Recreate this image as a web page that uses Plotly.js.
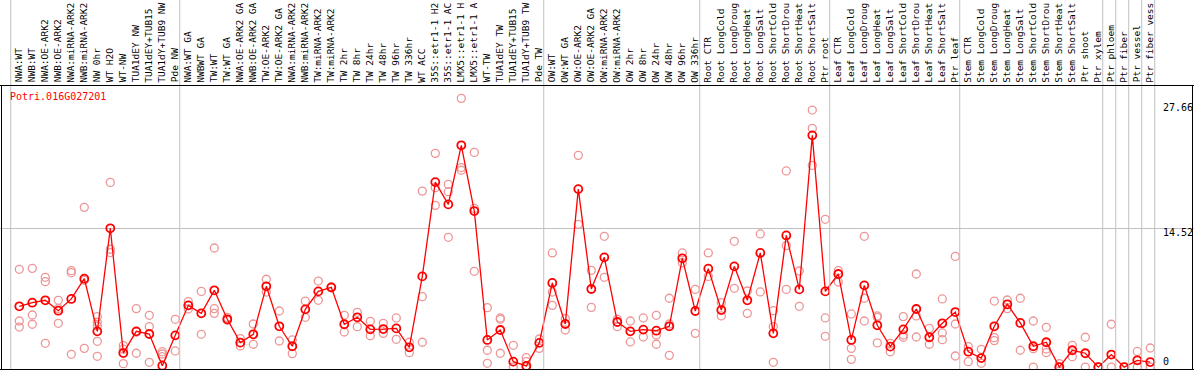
<!DOCTYPE html>
<html>
<head>
<meta charset="utf-8">
<script src="https://cdn.plot.ly/plotly-3.0.1.min.js"></script>
<style>html,body{margin:0;padding:0;background:#fff;}#chart{width:1194px;height:370px;}</style>
</head>
<body>
<div id="chart"></div>
<script>
const geneId = "Potri.016G027201";

// category labels as printed (truncated to 14 characters in the source chart)
const categories = [
  "NWA:WT","NWB:WT","NWA:OE-ARK2","NWB:OE-ARK2","NWA:miRNA-ARK2","NWB:miRNA-ARK2","NW 0hr","WT H2O","WT-NW","TUA1dEY NW","TUA1dEY+TUB15","TUA1dY+TUB9 NW","Pde NW",
  "NWA:WT GA","NWBWT GA","TW:WT","TW:WT GA","NWA:OE-ARK2 GA","NWB:OE-ARK2 GA","TW:OE-ARK2","TW:OE-ARK2 GA","NWA:miRNA-ARK2","NWB:miRNA-ARK2","TW:miRNA-ARK2","TW:miRNA-ARK2",
  "TW 2hr","TW 8hr","TW 24hr","TW 48hr","TW 96hr","TW 336hr","WT ACC","35S::etr1-1 H2","35S::etr1-1 AC","LMX5::etr1-1 H","LMX5::etr1-1 A","WT-TW","TUA1dEY TW","TUA1dEY+TUB15","TUA1dY+TUB9 TW","Pde TW",
  "OW:WT","OW:WT GA","OW:OE-ARK2","OW:OE-ARK2 GA","OW:miRNA-ARK2","OW:miRNA-ARK2","OW 2hr","OW 8hr","OW 24hr","OW 48hr","OW 96hr","OW 336hr",
  "Root CTR","Root LongCold","Root LongDroug","Root LongHeat","Root LongSalt","Root ShortCold","Root ShortDrou","Root ShortHeat","Root ShortSalt","Ptr root",
  "Leaf CTR","Leaf LongCold","Leaf LongDroug","Leaf LongHeat","Leaf LongSalt","Leaf ShortCold","Leaf ShortDrou","Leaf ShortHeat","Leaf ShortSalt","Ptr leaf",
  "Stem CTR","Stem LongCold","Stem LongDroug","Stem LongHeat","Stem LongSalt","Stem ShortCold","Stem ShortDrou","Stem ShortHeat","Stem ShortSalt","Ptr shoot","Ptr xylem",
  "Ptr phloem","Ptr fiber","Ptr vessel","Ptr fiber vess"
];

const groupSizes = [13, 28, 12, 10, 10, 11, 1, 1, 1, 1];

const meanValues = [
  6.36,6.74,6.99,5.90,7.13,9.25,3.74,14.52,1.47,3.74,3.46,0.15,3.32,
  6.46,5.62,8.03,5.00,2.56,3.43,8.45,4.27,2.18,6.04,7.92,8.34,
  4.48,5.21,3.95,3.98,4.05,2.07,9.49,19.35,17.02,23.20,16.32,2.84,3.88,0.57,0.12,2.53,
  8.80,4.51,18.62,8.17,11.48,4.72,3.74,3.92,3.81,4.27,11.38,5.87,
  10.30,5.97,10.54,6.99,11.94,3.53,13.77,8.13,24.24,7.92,
  9.74,2.84,8.55,4.37,2.14,3.95,6.08,3.12,4.58,5.76,
  1.61,0.94,4.27,6.57,4.62,2.18,2.60,0.00,1.76,1.45,0.00,
  1.31,0.00,0.71,0.53
];

const replicateValues = [
  [10.23,4.82,4.19],[10.33,5.45,4.48],[9.39,8.94,2.49],[6.99,4.58,6.13],[10.09,9.88,1.34],[16.71,9.08,1.96],
  [5.28,4.69,4.30,2.70,1.13],[19.32,12.33,11.98],[2.25,1.87,0.36],[6.12,3.65,1.45],[5.42,4.23,0.50],[1.61,1.37,1.09],[5.00,1.69],
  [6.85,6.45,6.08],[7.92,3.43],[12.46,6.12,5.62],[5.20,4.90],[2.98,2.21],[4.51,2.39],[9.19,7.85],[5.87,2.73],
  [2.84,1.41],[6.91,5.21],[9.00,6.99],[8.40,8.28],
  [5.42,3.67],[5.73,4.23],[4.79,3.29],[4.58,3.53],[5.14,2.91],[2.60,1.51],[18.41,7.37,2.60],
  [22.36,18.77,16.92],[19.11,18.35,13.58],[28.11,20.87,20.59],[22.46,16.60,10.02],[6.22,1.76,0.40],[5.14,5.00,1.45],
  [2.28,0.00],[0.99,0.57,0.00],[2.94,1.96],
  [11.94,7.85,6.46],[5.07,3.88],[22.15,14.93],[10.12,6.25],[13.68,9.39],[5.00,4.23],[4.82,2.63],[5.14,3.15],
  [5.42,3.36,2.39],[7.20,4.51,1.23],[11.94,10.92],[8.13,3.53],
  [11.94,9.49],[6.74,5.35],[13.16,8.24],[7.96,5.62],[13.93,7.86],[5.90,4.23,0.50],[20.52,12.71,8.13],[10.05,6.36],
  [26.89,24.97,21.10],[15.46,5.14,3.22],
  [10.09,8.90],[5.56,1.96,0.81],[13.68,7.20,4.82],[5.35,5.21,2.53],[2.49,1.61],[5.28,3.36,3.12],[9.74,5.35,3.15],
  [4.05,2.39],[7.13,3.57,2.87],[11.58,4.51,1.16],
  [2.14,0.57],[1.86,0.40],[6.91,3.08,2.77],[7.02,6.12],[7.20,1.76],[4.82,1.93,0.00],[4.16,1.90,1.51],[0.36,0.00],
  [2.28,1.09],[3.12,0.00],[0.00,0.00],
  [4.48,0.00],[0.00],[1.64,0.00],[2.00,0.00]
];

const yTickValues = [0, 14.52, 27.66];
const yTickLabels = ["0", "14.52", "27.66"];
const yGridValues = [14.52];

// ---- build ----
const W = 1194, H = 370;
const idx = categories.map((_, i) => i);
const repX = [], repY = [];
replicateValues.forEach((arr, i) => arr.forEach(v => { repX.push(i); repY.push(v); }));

const MONO = "DejaVu Sans Mono, Liberation Mono, monospace";
const px2paperY = p => 1 - p / H;
const px2paperX = p => p / W;

const traces = [
  {
    x: repX, y: repY, type: "scatter", mode: "markers",
    marker: {symbol: "circle-open", size: 8, color: "#ec9696", line: {width: 1.3, color: "#ec9696"}},
    hoverinfo: "skip", showlegend: false
  },
  {
    x: idx, y: meanValues, type: "scatter", mode: "lines+markers",
    line: {color: "#ff0000", width: 1.3},
    marker: {symbol: "circle-open", size: 8, color: "#ff0000", line: {width: 1.8, color: "#ff0000"}},
    showlegend: false
  }
];

const shapes = [];
let boundaries = [0];
groupSizes.reduce((acc, s) => { boundaries.push(acc + s); return acc + s; }, 0);
boundaries.forEach(b => {
  shapes.push({type: "line", xref: "x", yref: "paper", x0: b - 0.66, x1: b - 0.66,
    y0: px2paperY(369), y1: 1, line: {color: "#c0c0c0", width: 1}});
});
shapes.push({type: "line", xref: "paper", yref: "paper", x0: 0, x1: 1, y0: px2paperY(85.5), y1: px2paperY(85.5), line: {color: "#000", width: 1}});
shapes.push({type: "line", xref: "paper", yref: "paper", x0: 0, x1: 1, y0: px2paperY(369.5), y1: px2paperY(369.5), line: {color: "#000", width: 1}});
shapes.push({type: "line", xref: "paper", yref: "paper", x0: px2paperX(1.5), x1: px2paperX(1.5), y0: px2paperY(85.5), y1: px2paperY(369.5), line: {color: "#000", width: 1}});
shapes.push({type: "line", xref: "paper", yref: "paper", x0: px2paperX(1192.5), x1: px2paperX(1192.5), y0: px2paperY(85.5), y1: px2paperY(369.5), line: {color: "#000", width: 1}});

const annotations = [];
categories.forEach((c, i) => {
  annotations.push({
    text: c, x: i, xref: "x", y: px2paperY(84.5), yref: "paper",
    xanchor: "center", yanchor: "bottom", textangle: -90, xshift: -1,
    showarrow: false, font: {family: MONO, size: 9.5, color: "#000"}
  });
});
annotations.push({
  text: geneId, x: px2paperX(8), xref: "paper", y: px2paperY(96.5), yref: "paper",
  xanchor: "left", yanchor: "middle", showarrow: false,
  font: {family: MONO, size: 10, color: "#ff0000"}
});
yTickValues.forEach((v, k) => {
  const atBottom = v === 0;
  annotations.push({
    text: yTickLabels[k], x: px2paperX(1161), xref: "paper", y: v, yref: "y",
    xanchor: "left", yanchor: atBottom ? "bottom" : "top", yshift: atBottom ? -2 : 3,
    showarrow: false, font: {family: MONO, size: 10, color: "#000"}
  });
});

const xPix0 = 19.3, xStep = 13.0;
const yZeroPix = 367.1, yStep = 9.56;

const layout = {
  width: W, height: H,
  margin: {l: 0, r: 0, t: 0, b: 0, pad: 0},
  paper_bgcolor: "#fff", plot_bgcolor: "rgba(0,0,0,0)",
  showlegend: false,
  xaxis: {range: [-xPix0 / xStep, (W - xPix0) / xStep], showgrid: false, zeroline: false,
          showticklabels: false, ticks: "", showline: false, fixedrange: true},
  yaxis: {range: [-(H - yZeroPix) / yStep, yZeroPix / yStep], tickvals: yGridValues, showgrid: true,
          gridcolor: "#c0c0c0", gridwidth: 1, zeroline: false, showticklabels: false,
          ticks: "", showline: false, fixedrange: true},
  shapes: shapes,
  annotations: annotations
};

Plotly.newPlot("chart", traces, layout, {displayModeBar: false, staticPlot: true});
</script>
</body>
</html>
